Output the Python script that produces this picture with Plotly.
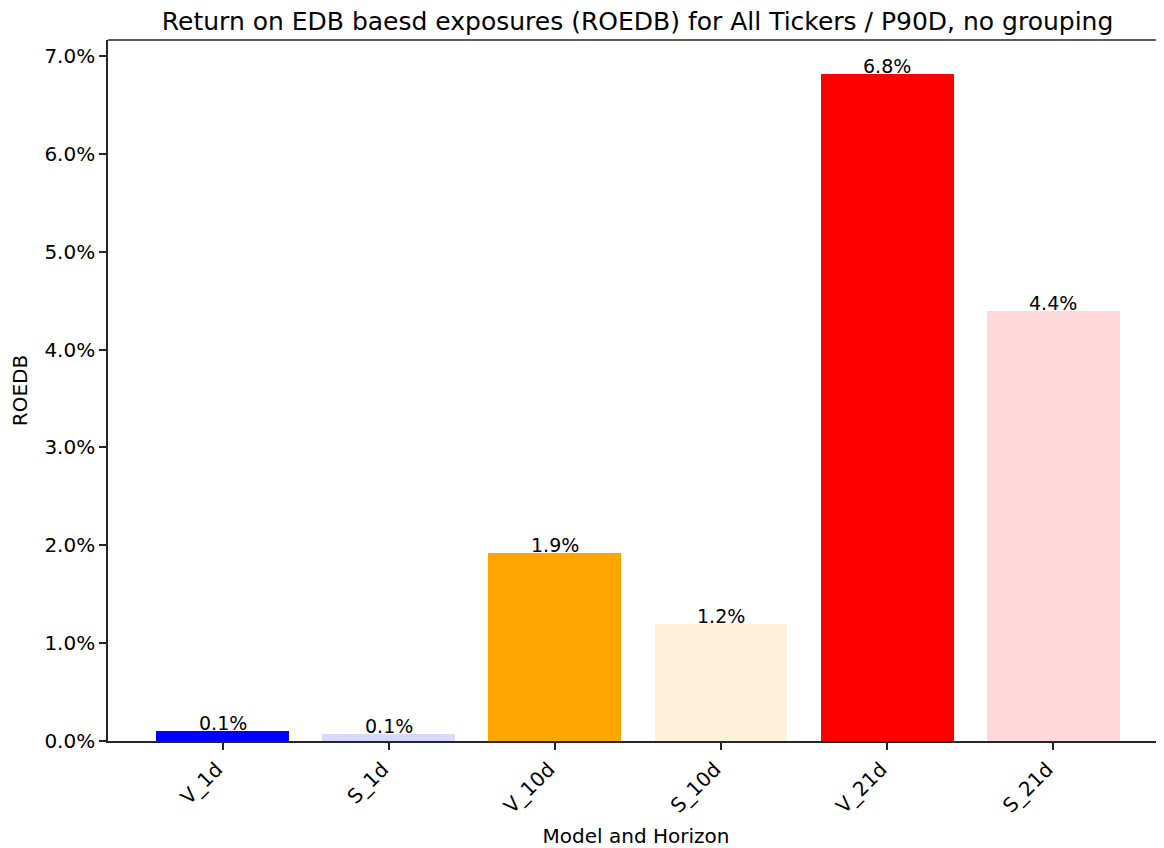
import plotly.graph_objects as go

# data
labels = ["V_1d", "S_1d", "V_10d", "S_10d", "V_21d", "S_21d"]
values = [0.0010, 0.0007, 0.0192, 0.0120, 0.0682, 0.0439]
colors = ["#0000ff", "#d9d9ff", "#ffa500", "#fff0db", "#ff0000", "#ffd9d9"]
text_labels = ["0.1%", "0.1%", "1.9%", "1.2%", "6.8%", "4.4%"]
y_ticks = [0.0, 0.01, 0.02, 0.03, 0.04, 0.05, 0.06, 0.07]

FONT = "DejaVu Sans"
AXIS_COL = "#262626"

fig = go.Figure()
fig.add_trace(go.Bar(
	x=list(range(len(labels))),
	y=values,
	width=0.8,
	marker=dict(color=colors, line=dict(width=0)),
	hoverinfo="skip",
))

# value labels sitting on top of each bar
for i, (v, t) in enumerate(zip(values, text_labels)):
	fig.add_annotation(
		x=i, y=v, text=t, showarrow=False,
		xanchor="center", yanchor="bottom", yshift=-5,
		font=dict(family=FONT, size=19, color="black"),
	)

# top spine (no right spine visible in the reference)
fig.add_shape(type="line", xref="paper", yref="paper", x0=0, x1=1, y0=1, y1=1,
	line=dict(color=AXIS_COL, width=1.6))

# page body has an 8px margin, so the figure is 8px smaller
fig.update_layout(
	width=1156, height=840,
	margin=dict(l=100, r=0, t=32, b=107),
	plot_bgcolor="white", paper_bgcolor="white",
	showlegend=False,
	bargap=0,
	title=dict(
		text="Return on EDB baesd exposures (ROEDB) for All Tickers / P90D, no grouping",
		x=0.5446, xanchor="center", y=0.984, yanchor="middle",
		font=dict(family=FONT, size=25, color="black"),
	),
	font=dict(family=FONT, color="black"),
)

fig.update_xaxes(
	range=[-0.69, 5.667],
	tickmode="array", tickvals=list(range(len(labels))), ticktext=labels,
	tickangle=-45, ticklabelshift=-6,
	ticks="outside", ticklen=7, tickwidth=1.6, tickcolor=AXIS_COL,
	showline=True, linecolor=AXIS_COL, linewidth=1.6,
	showgrid=False, zeroline=False,
	tickfont=dict(family=FONT, size=20, color="black"),
	title=dict(text="Model and Horizon", standoff=14,
		font=dict(family=FONT, size=20, color="black")),
)
fig.update_yaxes(
	range=[0, 0.07163],
	tickmode="array", tickvals=y_ticks, tickformat=".1%",
	ticks="outside", ticklen=7, tickwidth=1.6, tickcolor=AXIS_COL,
	showline=True, linecolor=AXIS_COL, linewidth=1.6,
	showgrid=False, zeroline=False,
	tickfont=dict(family=FONT, size=20, color="black"),
	title=dict(text="ROEDB", standoff=14,
		font=dict(family=FONT, size=20, color="black")),
)

fig.write_html("out.html")
